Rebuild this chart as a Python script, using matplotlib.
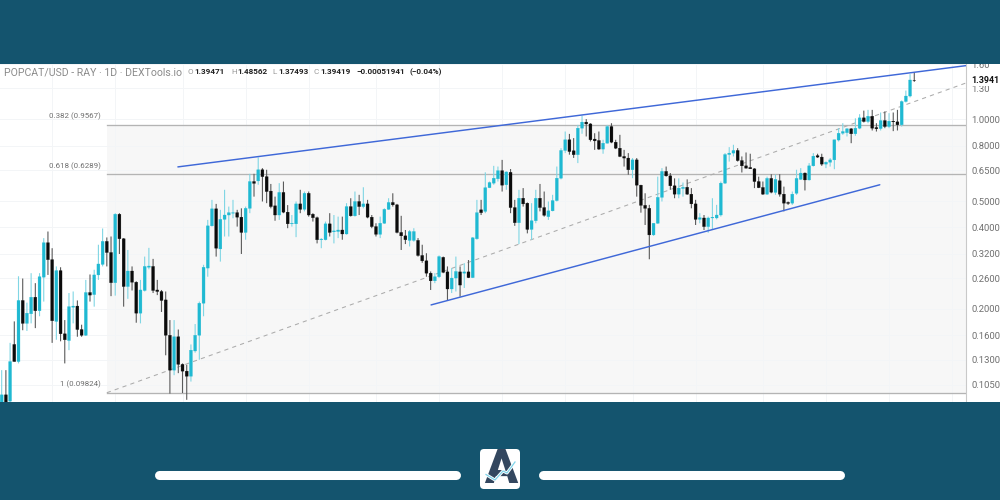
import matplotlib
matplotlib.use("Agg")
import matplotlib.pyplot as plt
from matplotlib.patches import Rectangle, FancyBboxPatch
from matplotlib.lines import Line2D

plt.rcParams['font.family'] = ['Roboto', 'DejaVu Sans']

opens = [.090,.0965,.0915,.148,.128,.215,.177,.192,.221,.197,.262,.351,.304,.180,.277,.162,.153,.203,.205,.168,
.160,.230,.226,.267,.292,.355,.323,.250,.447,.363,.242,.276,.251,.193,.234,.285,.287,.235,.232,.216,
.160,.119,.158,.125,.118,.113,.140,.160,.210,.283,.405,.468,.333,.428,.444,.451,.453,.436,.383,.470,
.590,.593,.652,.615,.544,.480,.444,.538,.455,.412,.412,.488,.466,.534,.447,.434,.360,.360,.412,.385,
.386,.391,.378,.477,.441,.498,.477,.488,.436,.4025,.377,.414,.466,.494,.484,.383,.372,.358,.358,.358,
.315,.301,.271,.254,.263,.310,.274,.237,.260,.274,.271,.274,.261,.363,.464,.458,.560,.582,.604,
.647,.574,.638,.473,.416,.512,.491,.393,.423,.512,.473,.438,.460,.502,.607,.768,.841,.766,.741,.928,
.977,.962,.846,.836,.777,.817,.941,.824,.783,.730,.720,.652,.709,.572,.482,.470,.375,.414,.516,.643,
.619,.569,.530,.556,.562,.530,.488,.428,.433,.4025,.433,.433,.444,.582,.742,.751,.768,.705,.674,
.665,.657,.590,.561,.530,.606,.538,.594,.530,.494,.491,.534,.601,.634,.598,.674,.735,.726,.684,.695,
.709,.839,.889,.893,.923,.885,.928,1.013,.982,1.027,.933,.925,.990,.941,.985,.979,.955,1.164,1.219,1.39471]
highs = [.119,.119,.150,.180,.264,.259,.211,.271,.249,.271,.365,.386,.335,.287,.285,.182,.229,.232,.215,.175,
.256,.268,.279,.345,.396,.367,.370,.451,.451,.365,.330,.287,.253,.256,.312,.336,.306,.256,.235,.232,
.182,.182,.168,.126,.1245,.148,.176,.213,.291,.426,.505,.488,.464,.550,.477,.505,.464,.470,.477,.630,
.630,.724,.661,.652,.578,.519,.582,.590,.483,.444,.498,.550,.542,.542,.451,.438,.365,.420,.451,.444,
.438,.438,.491,.512,.542,.527,.562,.505,.444,.414,.438,.470,.512,.534,.488,.441,.391,.391,.397,.365,
.345,.321,.275,.271,.315,.312,.287,.283,.312,.287,.295,.303,.368,.505,.505,.638,.590,.674,.670,
.709,.643,.656,.505,.550,.558,.494,.491,.550,.578,.542,.498,.527,.670,.783,.902,.884,.853,.954,1.032,
1.002,.968,.889,.902,.841,.954,.968,.841,.877,.772,.751,.720,.720,.574,.534,.484,.414,.615,.661,.670,
.634,.606,.606,.585,.601,.558,.505,.451,.444,.438,.512,.484,.590,.751,.790,.806,.783,.730,.755,
.747,.661,.615,.590,.615,.628,.625,.628,.565,.498,.542,.652,.661,.637,.690,.751,.747,.747,.700,.720,
.841,.928,.968,.928,.928,1.009,1.045,1.077,1.084,1.084,.968,1.060,1.069,1.054,1.060,1.084,1.174,1.277,1.468,1.48562]
lows = [.090,.090,.090,.128,.126,.167,.166,.177,.170,.188,.213,.267,.150,.154,.152,.126,.141,.177,.158,.158,
.159,.213,.204,.256,.287,.287,.223,.224,.319,.204,.218,.234,.178,.177,.232,.280,.229,.225,.195,.135,
.0975,.114,.116,.098,.0925,.108,.138,.130,.188,.263,.4025,.312,.299,.370,.370,.432,.4025,.319,.360,.451,
.519,.574,.498,.491,.470,.423,.426,.451,.397,.4025,.368,.451,.458,.438,.420,.349,.335,.358,.370,.349,
.365,.360,.376,.438,.438,.444,.470,.432,.397,.370,.365,.412,.464,.477,.380,.330,.347,.340,.354,.312,
.296,.263,.235,.249,.260,.271,.215,.229,.232,.222,.239,.260,.260,.360,.444,.451,.558,.574,.590,
.542,.550,.451,.405,.347,.477,.380,.360,.414,.458,.438,.426,.458,.498,.601,.751,.741,.721,.690,.885,
.865,.829,.772,.772,.747,.815,.817,.777,.726,.670,.625,.607,.519,.453,.408,.305,.372,.412,.498,.615,
.550,.512,.512,.519,.527,.470,.408,.414,.391,.382,.391,.428,.438,.578,.699,.730,.699,.637,.659,
.657,.558,.558,.527,.527,.534,.527,.519,.458,.484,.484,.527,.598,.547,.595,.670,.721,.674,.661,.670,
.655,.829,.877,.865,.817,.870,.920,.974,.968,.910,.902,.910,.928,.928,.905,.910,.941,1.154,1.205,1.37493]
closes = [.0965,.090,.128,.128,.215,.177,.193,.221,.197,.263,.351,.304,.181,.277,.162,.154,.204,.205,.168,.160,
.230,.225,.267,.293,.355,.323,.250,.447,.363,.242,.276,.251,.193,.235,.287,.288,.234,.232,.215,.160,
.119,.158,.125,.118,.113,.141,.160,.210,.285,.405,.468,.335,.428,.444,.453,.453,.436,.383,.470,.590,
.581,.652,.615,.542,.477,.444,.538,.455,.412,.414,.488,.466,.534,.444,.434,.360,.362,.412,.383,.388,
.391,.378,.477,.441,.498,.477,.488,.436,.4025,.377,.414,.466,.494,.484,.383,.372,.360,.386,.386,.315,
.301,.271,.254,.263,.312,.273,.237,.260,.275,.245,.274,.261,.366,.453,.453,.560,.585,.607,.647,
.572,.640,.473,.416,.512,.488,.393,.423,.512,.473,.443,.460,.502,.607,.768,.841,.761,.741,.928,.977,
.962,.841,.833,.777,.817,.941,.824,.783,.730,.720,.652,.709,.572,.482,.470,.375,.414,.516,.643,.619,
.569,.530,.558,.562,.530,.488,.428,.434,.4025,.433,.436,.444,.582,.742,.751,.768,.705,.674,.661,
.657,.590,.560,.530,.606,.539,.601,.530,.491,.490,.530,.606,.634,.598,.674,.732,.726,.684,.695,.709,
.841,.889,.902,.923,.885,.928,1.013,.982,1.027,.928,.923,.990,.941,.985,.979,.955,1.164,1.219,1.397,1.39419]

fib_levels = [0.9567, 0.6289, 0.09824]
fib_labels = ["0.382 (0.9567)", "0.618 (0.6289)", "1 (0.09824)"]
price_ticks = [1.60, 1.30, 1.00, 0.80, 0.65, 0.50, 0.40, 0.32, 0.26, 0.20, 0.16, 0.13, 0.105]
price_tick_labels = ["1.60", "1.30", "1.0000", "0.8000", "0.6500", "0.5000", "0.4000", "0.3200",
                     "0.2600", "0.2000", "0.1600", "0.1300", "0.1050"]
month_starts = [12, 27, 43, 58, 73, 89, 104, 119, 134, 150, 165, 181, 196, 211, 226]
last_price = 1.3941

upper_trend = ([41.9, 229.3], [0.668, 1.578])
lower_trend = ([102.1, 208.8], [0.207, 0.574])
fib_trend = ([25.0, 229.3], [0.09824, 1.362])

BANNER = "#14546e"
TEAL = "#1fb9d2"
TEAL_WICK = "#80d6e4"
BLACK = "#0b0b0b"
BLACK_WICK = "#5a5a5a"
W, H = 1000, 500

fig = plt.figure(figsize=(10, 5), dpi=100, facecolor="white")
ax = fig.add_axes([0, (H - 402) / H, 966 / W, 338 / H])
ax.set_facecolor("white")
ax.set_yscale("log")
ax.set_ylim(0.0908, 1.600)
ax.set_xlim(-0.4, 229.3)

ax.yaxis.tick_right()
ax.set_yticks(price_ticks, price_tick_labels)
ax.minorticks_off()
ax.tick_params(axis="y", which="both", length=0, pad=4, labelsize=6.8, labelcolor="#707070")
ax.set_xticks(month_starts, [""] * len(month_starts))
ax.tick_params(axis="x", length=0)
ax.grid(True, color="#f3f5f7", lw=0.7, zorder=0)
ax.set_axisbelow(True)
for name, spine in ax.spines.items():
    spine.set_visible(name == "right")
ax.spines["right"].set_color("#c9c9c9")
ax.spines["right"].set_linewidth(0.8)

ax.fill_between([fib_trend[0][0], 229.3], fib_levels[2], fib_levels[0],
                color="#7f7f7f", alpha=0.06, lw=0, zorder=0.5)
for level, label in zip(fib_levels, fib_labels):
    ax.plot([fib_trend[0][0], 229.3], [level, level], color="#b4b4b4", lw=0.95, zorder=1)
    ax.annotate(label, xy=(fib_trend[0][0], level), xytext=(-4.3, 5.8), textcoords="offset points",
                ha="right", va="center", fontsize=5.7, color="#6f6f6f")

ax.plot(*fib_trend, color="#ababab", lw=0.75, ls=(0, (4, 4)), zorder=1.2)

for i, (o, h, l, c) in enumerate(zip(opens, highs, lows, closes)):
    up = c >= o
    wick = ax.vlines(i, l, h, color=TEAL_WICK if up else BLACK_WICK, lw=0.8, zorder=2)
    wick.set_snap(False)
    body = ax.bar(i, abs(c - o), bottom=min(o, c), width=0.7, color=TEAL if up else BLACK,
                  edgecolor=TEAL if up else BLACK, lw=0.2, zorder=3)
    for patch in body:
        patch.set_snap(False)

ax.plot(*upper_trend, color="#3f68d8", lw=1.05, zorder=4, solid_capstyle="round")
ax.plot(*lower_trend, color="#3f68d8", lw=1.05, zorder=4, solid_capstyle="round")

ax.annotate(f"{last_price:.4f}", xy=(1, last_price), xycoords=("axes fraction", "data"),
            xytext=(4.0, 0), textcoords="offset points", va="center", ha="left",
            fontsize=6.4, fontweight="bold", color="#111111", annotation_clip=False,
            bbox=dict(facecolor="white", edgecolor="none", pad=1.0))


def fx(px):
    return px / W


def fy(py):
    return 1 - py / H


for y0, y1 in ((0, 64), (402, 500)):
    fig.add_artist(Rectangle((0, fy(y1)), 1, (y1 - y0) / H, transform=fig.transFigure,
                             facecolor=BANNER, edgecolor="none", zorder=10))

header = [(4, "POPCAT/USD - RAY · 1D · DEXTools.io", "#8a8a8a", "normal", 7.6),
          (188, "O", "#9a9a9a", "normal", 5.9), (194.5, "1.39471", "#222222", "bold", 5.9),
          (231, "H", "#9a9a9a", "normal", 5.9), (237, "1.48562", "#222222", "bold", 5.9),
          (272, "L", "#9a9a9a", "normal", 5.9), (278, "1.37493", "#222222", "bold", 5.9),
          (314, "C", "#9a9a9a", "normal", 5.9), (320, "1.39419", "#222222", "bold", 5.9),
          (356, "−0.00051941", "#222222", "bold", 5.9), (410, "(−0.04%)", "#222222", "bold", 5.9)]
for x, s, col, weight, size in header:
    fig.text(fx(x), fy(72), s, color=col, fontweight=weight, fontsize=size, va="center", ha="left", zorder=11)

for x0, x1 in ((155, 461), (539, 845)):
    fig.add_artist(Line2D([fx(x0 + 3.5), fx(x1 - 5)], [fy(474.5), fy(474.5)], transform=fig.transFigure,
                          color="white", lw=6.5, solid_capstyle="round", zorder=11))

fig.add_artist(FancyBboxPatch((482, 13), 36, 36, boxstyle="round,pad=2,rounding_size=4", transform=None,
                              facecolor="white", edgecolor="none", zorder=11))
fig.text(fx(500.5), fy(470), "A", fontsize=35, fontweight="black", color="#33475f",
         ha="center", va="center", zorder=12)
logo_x = [486, 495, 503, 507, 515]
logo_y = [474.5, 480, 471, 473, 462]
fig.add_artist(Line2D([fx(v) for v in logo_x], [fy(v) for v in logo_y], transform=fig.transFigure,
                      color="white", lw=2.2, zorder=13))
fig.add_artist(Line2D([fx(v) for v in logo_x], [fy(v) for v in logo_y], transform=fig.transFigure,
                      color="#7fd4ea", lw=0.9, zorder=14))

fig.savefig("out.png", dpi=100, facecolor="white")
